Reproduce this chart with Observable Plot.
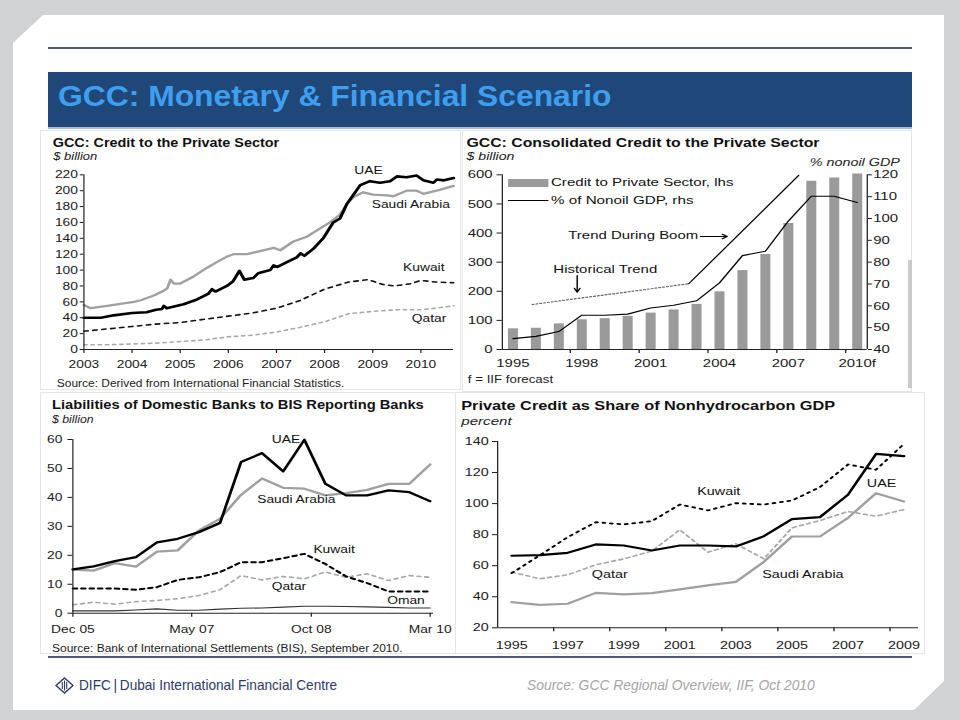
<!DOCTYPE html>
<html><head><meta charset="utf-8">
<script src="https://cdn.jsdelivr.net/npm/d3@7"></script>
<script src="https://cdn.jsdelivr.net/npm/@observablehq/plot@0.6"></script>
<style>
html,body{margin:0;padding:0;background:#d1d2d4;width:960px;height:720px;overflow:hidden}
#slide{position:relative;width:960px;height:720px;font-family:"Liberation Sans",Arial,Helvetica,sans-serif;color:#111}
.abs{position:absolute}
#paper{left:13px;top:15px;width:931px;height:695px;background:#fff;clip-path:polygon(30px 0,100% 0,100% 666px,901px 100%,0 100%,0 28px)}
.rule{background:#4c5a78;height:2px;left:48px;width:864px}
#bar{left:48px;top:72px;width:864px;height:57px;background:#1f4879;border-bottom:2px solid #a9bcd6;box-sizing:border-box}
.fit{white-space:nowrap;transform-origin:0 0;line-height:normal}
.ctitle{font-weight:bold;font-size:12px;color:#111}
.csub{font-style:italic;font-size:11.5px;color:#222}
.csrc{font-size:10px;color:#222}
.panel{border:1px solid #e6e6e6;box-sizing:border-box}
.chart{transform-origin:0 0}
</style></head><body>
<div id="slide">
  <div id="paper" class="abs"></div>
  <div class="abs rule" style="top:47px"></div>
  <div id="bar" class="abs"></div>
  <div class="abs fit" data-w="553" style="left:58px;top:79.5px;font-size:29px;font-weight:bold;color:#3e9ff1">GCC: Monetary &amp; Financial Scenario</div>

  <div class="abs panel" style="left:40px;top:130px;width:421px;height:260px"></div>
  <div class="abs panel" style="left:462px;top:130px;width:450px;height:262px"></div>
  <div class="abs" style="left:908px;top:260px;width:4px;height:128px;background:#cacaca"></div>
  <div class="abs panel" style="left:40px;top:392px;width:416px;height:262px"></div>
  <div class="abs panel" style="left:455px;top:392px;width:470px;height:262px"></div>

  <!-- Chart 1 -->
  <div class="abs chart" id="ch1" style="left:40px;top:130px;width:350px;height:260px;transform:scaleX(1.2)">
    <div class="abs fit ctitle" data-w="189" style="left:10.6px;top:6.3px">GCC: Credit to the Private Sector</div>
    <div class="abs fit csub" data-w="36.7" style="left:10.6px;top:20.3px">$ billion</div>
    <div class="abs" id="plot1" style="left:0;top:30px"></div>
    <div class="abs fit csrc" data-w="240" style="left:13.9px;top:247.6px">Source: Derived from International Financial Statistics.</div>
  </div>

  <!-- Chart 2 -->
  <div class="abs chart" id="ch2" style="left:460px;top:130px;width:350px;height:260px;transform:scaleX(1.3)">
    <div class="abs fit ctitle" data-w="271.5" style="left:5.2px;top:5.8px">GCC: Consolidated Credit to the Private Sector</div>
    <div class="abs fit csub" data-w="36.9" style="left:5.2px;top:19.6px">$ billion</div>
    <div class="abs fit csub" data-w="69.2" style="left:269.2px;top:25.6px">% nonoil GDP</div>
    <div class="abs" id="plot2" style="left:0;top:30px"></div>
    <div class="abs" style="left:37.2px;top:49.3px;width:30.8px;height:8px;background:#9a9a9a"></div>
    <div class="abs" style="left:37.2px;top:69.5px;width:30.8px;height:1px;background:#000"></div>
    <div class="abs fit" data-w="140" style="left:69.8px;top:46.3px;font-size:11.5px">Credit to Private Sector, lhs</div>
    <div class="abs fit" data-w="109.8" style="left:69.8px;top:63.6px;font-size:11.5px">% of Nonoil GDP, rhs</div>
    <div class="abs fit" data-w="100" style="left:83.3px;top:98.9px;font-size:11.5px">Trend During Boom</div>
    <div class="abs fit" data-w="80" style="left:71.8px;top:132.9px;font-size:11.5px">Historical Trend</div>
    <div class="abs fit csrc" data-w="65.4" style="left:6.2px;top:243.8px">f = IIF forecast</div>
  </div>

  <!-- Chart 3 -->
  <div class="abs chart" id="ch3" style="left:40px;top:390px;width:345px;height:265px;transform:scaleX(1.2)">
    <div class="abs fit ctitle" data-w="309.7" style="left:9.7px;top:8.4px">Liabilities of Domestic Banks to BIS Reporting Banks</div>
    <div class="abs fit csub" data-w="34.7" style="left:9.7px;top:22.9px">$ billion</div>
    <div class="abs" id="plot3" style="left:0;top:35px"></div>
    <div class="abs fit csrc" data-w="291.7" style="left:9.7px;top:252.6px">Source: Bank of International Settlements (BIS), September 2010.</div>
  </div>

  <!-- Chart 4 -->
  <div class="abs chart" id="ch4" style="left:455px;top:390px;width:376px;height:265px;transform:scaleX(1.25)">
    <div class="abs fit ctitle" data-w="298.7" style="left:5.3px;top:9.1px">Private Credit as Share of Nonhydrocarbon GDP</div>
    <div class="abs fit csub" data-w="40" style="left:5.3px;top:14.6px;top:14.6px;margin-top:10px">percent</div>
    <div class="abs" id="plot4" style="left:0;top:35px"></div>
  </div>

  <div class="abs rule" style="top:656px"></div>

  <svg class="abs" style="left:55px;top:677px" width="19" height="17" viewBox="0 0 19 17">
    <polygon points="9.5,1 18,8.5 9.5,16 1,8.5" fill="none" stroke="#2b3a66" stroke-width="1.4"/>
    <line x1="7.3" y1="5" x2="7.3" y2="12" stroke="#2b3a66" stroke-width="1.1"/>
    <line x1="9.5" y1="3.5" x2="9.5" y2="13.5" stroke="#2b3a66" stroke-width="1.1"/>
    <line x1="11.7" y1="5" x2="11.7" y2="12" stroke="#2b3a66" stroke-width="1.1"/>
  </svg>
  <div class="abs fit" data-w="258" style="left:79px;top:675.5px;font-family:'Liberation Sans Narrow','Liberation Sans',Arial,sans-serif;font-size:15px;color:#2b3a66">DIFC&#8201;|&#8201;Dubai International Financial Centre</div>
  <div class="abs fit" data-w="288" style="left:527px;top:677.3px;font-size:14px;font-style:italic;color:#a6a6a6">Source: GCC Regional Overview, IIF, Oct 2010</div>
</div>

<script>
// ---------- Chart 1: GCC credit to the private sector ($ billion) ----------
const c1XDomain = [2003, 2010.68];
const c1YDomain = [0, 220];
const c1XTicks = [2003, 2004, 2005, 2006, 2007, 2008, 2009, 2010];
const c1YTicks = [0, 20, 40, 60, 80, 100, 120, 140, 160, 180, 200, 220];
const c1Uae = [[2003.00,40],[2003.35,40],[2003.62,43],[2004.00,46],[2004.30,47],[2004.50,50],[2004.62,51],[2004.66,55],[2004.72,52],[2005.07,57],[2005.35,63],[2005.58,70],[2005.66,76],[2005.73,73],[2005.97,80],[2006.10,86],[2006.23,99],[2006.33,88],[2006.52,90],[2006.62,96],[2006.87,100],[2006.94,106],[2007.02,104],[2007.28,112],[2007.42,116],[2007.50,121],[2007.58,118],[2007.77,127],[2007.97,140],[2008.18,160],[2008.32,165],[2008.46,183],[2008.60,195],[2008.74,207],[2008.94,212],[2009.15,210],[2009.36,212],[2009.50,218],[2009.70,217],[2009.91,219],[2010.05,213],[2010.26,210],[2010.33,214],[2010.48,213],[2010.68,216]];
const c1Saudi = [[2003.00,56],[2003.14,52],[2003.48,55],[2003.83,58],[2004.04,60],[2004.18,62],[2004.45,68],[2004.66,74],[2004.73,77],[2004.80,88],[2004.87,83],[2005.00,83],[2005.28,92],[2005.56,103],[2005.76,110],[2005.97,117],[2006.11,120],[2006.39,120],[2006.66,124],[2006.94,128],[2007.08,125],[2007.35,136],[2007.63,142],[2007.84,150],[2008.11,160],[2008.32,170],[2008.46,183],[2008.60,192],[2008.80,198],[2009.01,195],[2009.30,194],[2009.43,193],[2009.70,200],[2009.91,200],[2010.05,196],[2010.39,201],[2010.68,206]];
const c1Kuwait = [[2003.0,23],[2003.5,26],[2004.0,29],[2004.5,32],[2005.0,34],[2005.5,38],[2006.0,42],[2006.5,46],[2007.0,52],[2007.5,62],[2008.0,76],[2008.5,85],[2008.9,88],[2009.2,82],[2009.45,80],[2009.8,83],[2010.0,87],[2010.3,85],[2010.68,84]];
const c1Qatar = [[2003.0,6],[2003.5,6],[2004.0,7],[2004.5,8],[2005.0,10],[2005.5,12],[2006.0,16],[2006.5,18],[2007.0,22],[2007.5,28],[2008.0,35],[2008.5,45],[2009.0,48],[2009.5,50],[2010.0,50],[2010.3,52],[2010.68,55]];
const c1Labels = [{name:"UAE",x:2008.91,y:226},{name:"Saudi Arabia",x:2009.79,y:182.6},{name:"Kuwait",x:2010.06,y:103.5},{name:"Qatar",x:2010.17,y:39.5}];

// ---------- Chart 2: GCC consolidated credit ----------
const c2Years = [1995,1996,1997,1998,1999,2000,2001,2002,2003,2004,2005,2006,2007,2008,2009,2010];
const c2Credit = [71,73,88,102,106,114,125,136,155,198,271,326,433,578,589,603];
const c2NonoilPct = [45,46,48.2,55.7,55.7,56.2,59,60.3,62.3,70.5,83,85,98.8,110.2,110.2,107.3];
const c2XDomain = [1994.54, 2010.44];
const c2LhsDomain = [0, 600];
const c2RhsDomain = [40, 120];
const c2LhsTicks = [0,100,200,300,400,500,600];
const c2RhsTicks = [40,50,60,70,80,90,100,110,120];
const c2TickYears = [1995,1998,2001,2004,2007,2010];
const c2TickLabels = ["1995","1998","2001","2004","2007","2010f"];
const c2MinorTicks = [1997.5,2000.5,2003.5,2006.5,2009.5];
const c2HistTrend = [[1995.84,60.6],[2002.66,70.1]];
const c2BoomTrend = [[2002.66,70.1],[2007.45,119.7]];
const c2Arrows = [{x1:2003.17,y1:388,x2:2004.34,y2:388},{x1:1997.8,y1:254,x2:1997.8,y2:197}];

// ---------- Chart 3: Liabilities to BIS banks ----------
const c3Quarters = ["2005-12","2006-03","2006-06","2006-09","2006-12","2007-03","2007-06","2007-09","2007-12","2008-03","2008-06","2008-09","2008-12","2009-03","2009-06","2009-09","2009-12","2010-03"];
const c3Uae = [15.1,16.2,18,19.4,24.5,25.7,28,31.2,52.2,55.3,49,59.9,44.7,40.7,40.7,42.4,41.8,38.7];
const c3Saudi = [15.1,14.7,17.3,16.1,21.3,21.7,28.6,32.6,40.9,46.5,43.3,43,40.7,41.5,42.6,44.7,44.7,51.4];
const c3Kuwait = [8.5,8.5,8.5,8.1,9,11.5,12.4,14.2,17.6,17.6,19,20.5,17,12.7,10.4,7.5,7.5,7.5];
const c3Qatar = [2.9,3.8,3.1,4,4.4,5,6.1,8.1,13,11.5,12.7,11.9,14.2,12.4,13.6,11.3,13,12.4];
const c3Oman = [0.8,0.8,0.8,1.1,1.5,1,1,1.4,1.7,1.8,2.1,2.4,2.4,2.3,2.2,2,1.8,1.8];
const c3XDomain = ["2005-12-01","2010-03-16"];
const c3XTicks = ["2005-12","2007-05","2008-10","2010-03"];
const c3YTicks = [0,10,20,30,40,50,60];
const c3Labels = [{name:"UAE",x:"2008-06-13",y:59.9},{name:"Saudi Arabia",x:"2008-07-28",y:39.5},{name:"Kuwait",x:"2009-01-08",y:22.2},{name:"Qatar",x:"2008-06-26",y:9.2},{name:"Oman",x:"2009-11-16",y:4.4}];

// ---------- Chart 4: Private credit share of nonhydrocarbon GDP ----------
const c4Years = [1995,1996,1997,1998,1999,2000,2001,2002,2003,2004,2005,2006,2007,2008,2009];
const c4Uae = [66.4,66.8,68.3,73.7,73,69.8,73,73,72.4,79,90,91.3,105.7,132,130.6];
const c4Saudi = [36.5,34.8,35.5,42.5,41.5,42.3,44.7,47.3,49.6,62.5,78.8,78.8,90.8,106.7,101.4];
const c4Kuwait = [55.2,66.6,78.4,88,86.6,88.7,99.4,95.6,100.3,99.4,102,110.6,125.2,121.8,138.5];
const c4Qatar = [55.9,51.6,54.1,60.6,64.4,69.4,83.1,68.7,74.1,64.4,84.4,89.1,94.9,91.9,96.2];
const c4XDomain = [1994.5, 2009.52];
const c4YDomain = [20, 140];
const c4XTicks = [1995,1997,1999,2001,2003,2005,2007,2009];
const c4MinorTicks = [1996.5,1998.5,2000.5,2002.5,2004.5,2006.5,2008.5];
const c4YTicks = [20,40,60,80,100,120,140];
const c4Labels = [{name:"Kuwait",x:2002.39,y:107.8},{name:"UAE",x:2008.2,y:113},{name:"Qatar",x:1998.5,y:54.3},{name:"Saudi Arabia",x:2005.39,y:54.3}];

// ---------- drawing ----------
const baseStyle = {fontFamily: '"Liberation Sans", Arial, Helvetica, sans-serif', fontSize: "11.5px", color: "#1a1a1a", background: "transparent", overflow: "visible"};
const P = d => d[0], V = d => d[1];
const AX = "#222";

const plot1 = Plot.plot({
  width: 350, height: 215, marginLeft: 36.1, marginRight: 5.8, marginTop: 14.3, marginBottom: 26,
  style: baseStyle,
  x: {domain: c1XDomain, label: null},
  y: {domain: c1YDomain, label: null},
  marks: [
    Plot.axisY({ticks: c1YTicks, tickSize: 3, tickPadding: 2, label: null}),
    Plot.axisX({ticks: c1XTicks, tickSize: 4, tickPadding: 6, tickFormat: d => String(d), label: null}),
    Plot.line(c1Qatar, {x: P, y: V, stroke: "#a9a9a9", strokeWidth: 1.6, strokeDasharray: "2.5,3.5"}),
    Plot.line(c1Kuwait, {x: P, y: V, stroke: "#111", strokeWidth: 1.6, strokeDasharray: "3.5,4"}),
    Plot.line(c1Saudi, {x: P, y: V, stroke: "#a0a0a0", strokeWidth: 2.3}),
    Plot.line(c1Uae, {x: P, y: V, stroke: "#000", strokeWidth: 2.6}),
    Plot.ruleY([c1YDomain[0]], {stroke: AX}),
    Plot.ruleX([c1XDomain[0]], {stroke: AX}),
    Plot.text(c1Labels, {x: "x", y: "y", text: "name", fontSize: 11.5, fill: "#111"})
  ]
});
document.getElementById("plot1").append(plot1);

const lhsPerRhs = (c2LhsDomain[1] - c2LhsDomain[0]) / (c2RhsDomain[1] - c2RhsDomain[0]);
const toLhs = p => (p - c2RhsDomain[0]) * lhsPerRhs;
const fromLhs = v => c2RhsDomain[0] + v / lhsPerRhs;
const c2Rows = c2Years.map((year, i) => ({year, credit: c2Credit[i], pct: c2NonoilPct[i]}));

const plot2 = Plot.plot({
  width: 350, height: 215, marginLeft: 32.1, marginRight: 37.2, marginTop: 14.3, marginBottom: 26,
  style: baseStyle,
  x: {domain: c2XDomain, label: null},
  y: {domain: c2LhsDomain, label: null},
  marks: [
    Plot.ruleX(c2Rows, {x: "year", y1: 0, y2: "credit", stroke: "#9a9a9a", strokeWidth: 7.7}),
    Plot.axisY({ticks: c2LhsTicks, anchor: "left", tickSize: 4, tickPadding: 3.5, label: null}),
    Plot.axisY({ticks: c2RhsTicks.map(toLhs), anchor: "right", tickSize: 3, tickPadding: 1.5, tickFormat: v => String(Math.round(fromLhs(v))), label: null}),
    Plot.axisX({ticks: c2MinorTicks, tickSize: 4, tickFormat: () => "", label: null}),
    Plot.axisX({ticks: c2TickYears, tickSize: 0, tickPadding: 9, tickFormat: d => c2TickLabels[c2TickYears.indexOf(d)], label: null}),
    Plot.line(c2HistTrend, {x: P, y: d => toLhs(d[1]), stroke: "#666", strokeWidth: 1.2, strokeDasharray: "1.2,1.8"}),
    Plot.line(c2BoomTrend, {x: P, y: d => toLhs(d[1]), stroke: "#000", strokeWidth: 1.1}),
    Plot.line(c2Rows, {x: "year", y: d => toLhs(d.pct), stroke: "#000", strokeWidth: 1.1}),
    Plot.arrow(c2Arrows, {x1: "x1", y1: "y1", x2: "x2", y2: "y2", stroke: "#000", strokeWidth: 1.1, headLength: 6}),
    Plot.ruleY([c2LhsDomain[0]], {stroke: AX}),
    Plot.ruleX([c2XDomain[0], c2XDomain[1]], {stroke: AX})
  ]
});
document.getElementById("plot2").append(plot2);

const parseMonth = d3.utcParse("%Y-%m");
const c3Rows = c3Quarters.map((q, i) => ({date: parseMonth(q), uae: c3Uae[i], saudi: c3Saudi[i], kuwait: c3Kuwait[i], qatar: c3Qatar[i], oman: c3Oman[i]}));
const c3Dom = c3XDomain.map(s => new Date(s + "T00:00:00Z"));
const plot3 = Plot.plot({
  width: 345, height: 215, marginLeft: 26.9, marginRight: 17.5, marginTop: 14, marginBottom: 27.3,
  style: baseStyle,
  x: {type: "utc", domain: c3Dom, label: null},
  y: {domain: [c3YTicks[0], c3YTicks[c3YTicks.length - 1]], label: null},
  marks: [
    Plot.axisY({ticks: c3YTicks, tickSize: 4, tickPadding: 4.8, label: null}),
    Plot.axisX({ticks: c3XTicks.map(parseMonth), tickSize: 4, tickPadding: 8, tickFormat: d3.utcFormat("%b %y"), label: null}),
    Plot.line(c3Rows, {x: "date", y: "oman", stroke: "#333", strokeWidth: 1.1}),
    Plot.line(c3Rows, {x: "date", y: "qatar", stroke: "#a8a8a8", strokeWidth: 1.6, strokeDasharray: "3,3.5"}),
    Plot.line(c3Rows, {x: "date", y: "kuwait", stroke: "#000", strokeWidth: 2, strokeDasharray: "3.5,3.5"}),
    Plot.line(c3Rows, {x: "date", y: "saudi", stroke: "#a0a0a0", strokeWidth: 2.3}),
    Plot.line(c3Rows, {x: "date", y: "uae", stroke: "#000", strokeWidth: 2.3}),
    Plot.ruleY([c3YTicks[0]], {stroke: AX}),
    Plot.ruleX([c3Dom[0]], {stroke: AX}),
    Plot.text(c3Labels, {x: d => new Date(d.x + "T00:00:00Z"), y: "y", text: "name", fontSize: 11.5, fill: "#111"})
  ]
});
document.getElementById("plot3").append(plot3);

const c4Rows = c4Years.map((year, i) => ({year, uae: c4Uae[i], saudi: c4Saudi[i], kuwait: c4Kuwait[i], qatar: c4Qatar[i]}));
const plot4 = Plot.plot({
  width: 376, height: 230, marginLeft: 33.6, marginRight: 5.6, marginTop: 16, marginBottom: 27.7,
  style: baseStyle,
  x: {domain: c4XDomain, label: null},
  y: {domain: c4YDomain, label: null},
  marks: [
    Plot.axisY({ticks: c4YTicks, tickSize: 4, tickPadding: 3.2, label: null}),
    Plot.axisX({ticks: c4MinorTicks, tickSize: 4, tickFormat: () => "", label: null}),
    Plot.axisX({ticks: c4XTicks, tickSize: 0, tickPadding: 13, tickFormat: d => String(d), label: null}),
    Plot.line(c4Rows, {x: "year", y: "qatar", stroke: "#a8a8a8", strokeWidth: 1.6, strokeDasharray: "3,3"}),
    Plot.line(c4Rows, {x: "year", y: "kuwait", stroke: "#000", strokeWidth: 1.8, strokeDasharray: "2,4"}),
    Plot.line(c4Rows, {x: "year", y: "saudi", stroke: "#a0a0a0", strokeWidth: 2.2}),
    Plot.line(c4Rows, {x: "year", y: "uae", stroke: "#000", strokeWidth: 2.2}),
    Plot.ruleY([c4YDomain[0]], {stroke: AX}),
    Plot.ruleX([c4XDomain[0]], {stroke: AX}),
    Plot.text(c4Labels, {x: "x", y: "y", text: "name", fontSize: 11.5, fill: "#111"})
  ]
});
document.getElementById("plot4").append(plot4);

// fit text widths to the reference
document.querySelectorAll(".fit").forEach(el => {
  const w = +el.dataset.w, r = el.offsetWidth;
  if (w && r) el.style.transform = `scaleX(${w / r})`;
});
</script>
</body></html>
